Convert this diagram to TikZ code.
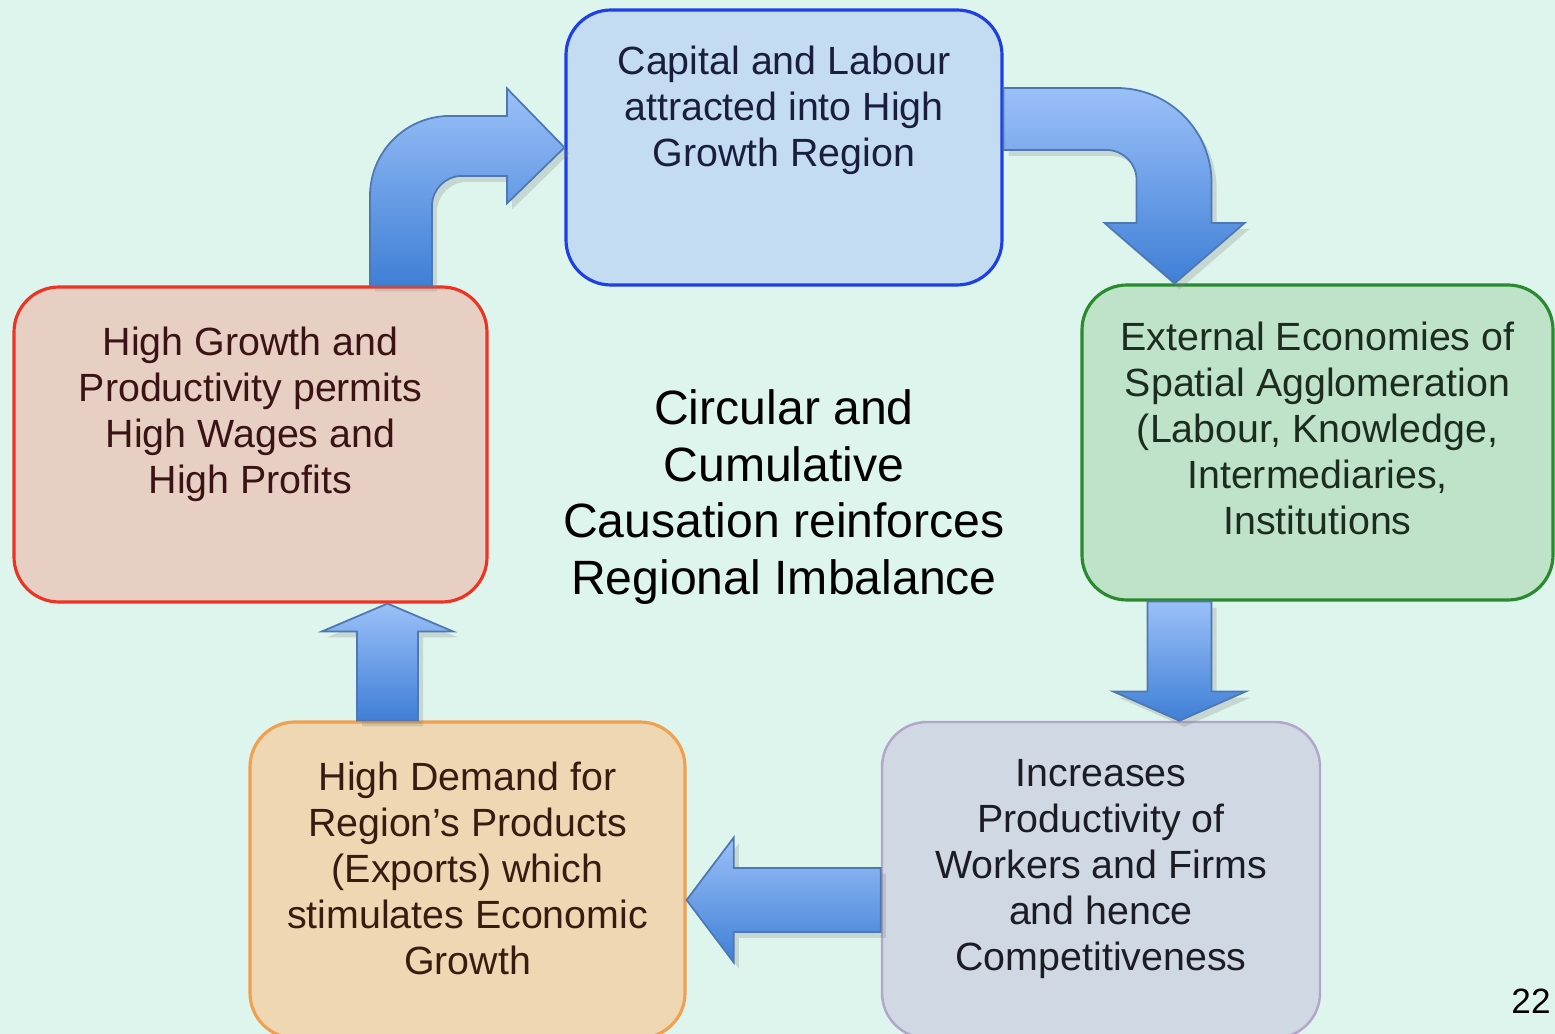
\documentclass[tikz,border=0pt]{standalone}
\usepackage{fontspec}
\setmainfont{Liberation Sans}
\usetikzlibrary{calc,positioning,shadows}

\definecolor{slidebg}{HTML}{DEF5EE}
\definecolor{capitalfill}{HTML}{C3DCF1}
\definecolor{capitalline}{HTML}{1E3FE3}
\definecolor{capitalink}{HTML}{1A1E3C}
\definecolor{growthfill}{HTML}{E8CFC4}
\definecolor{growthline}{HTML}{EE3322}
\definecolor{growthink}{HTML}{3A1414}
\definecolor{externalfill}{HTML}{BEE3C8}
\definecolor{externalline}{HTML}{2A8A2E}
\definecolor{externalink}{HTML}{1C2C1E}
\definecolor{demandfill}{HTML}{EFD7B3}
\definecolor{demandline}{HTML}{F0A050}
\definecolor{demandink}{HTML}{381C12}
\definecolor{prodfill}{HTML}{D0D8E3}
\definecolor{prodline}{HTML}{B2A6CA}
\definecolor{prodink}{HTML}{1C1C24}
\definecolor{arrowtop}{HTML}{9BC0F8}
\definecolor{arrowbottom}{HTML}{3F7FD6}
\definecolor{arrowedge}{HTML}{4E78B2}

\tikzstyle{box}=[rectangle,rounded corners=0.45cm,inner sep=0pt,line width=0.9pt]
\tikzstyle{boxtext}=[align=center,inner sep=0pt,font=\fontsize{11.2}{13.1}\selectfont]
\tikzstyle{blockarrow}=[draw=arrowedge,line width=0.5pt,top color=arrowtop,bottom color=arrowbottom,
  drop shadow={opacity=0.25,shadow xshift=0.5mm,shadow yshift=-0.6mm}]

\begin{document}
\begin{tikzpicture}
  \fill[slidebg] (0,0) rectangle (15.55,-10.34);
  \useasboundingbox (0,0) rectangle (15.55,-10.34);

  % the five stages of the cycle
  \node[box,draw=capitalline,fill=capitalfill,minimum width=4.36cm,minimum height=2.75cm] (capital) at (7.84,-1.475) {};
  \node[box,draw=externalline,fill=externalfill,minimum width=4.71cm,minimum height=3.15cm] (external) at (13.175,-4.425) {};
  \node[box,draw=prodline,fill=prodfill,line width=0.7pt,minimum width=4.38cm,minimum height=3.16cm] (productivity) at (11.01,-8.80) {};
  \node[box,draw=demandline,fill=demandfill,minimum width=4.35cm,minimum height=3.16cm] (demand) at (4.675,-8.80) {};
  \node[box,draw=growthline,fill=growthfill,minimum width=4.73cm,minimum height=3.15cm] (growth) at (2.505,-4.445) {};

  \node[boxtext,text=capitalink,below=0.37cm of capital.north] (capitaltext) {Capital and Labour\\attracted into High\\Growth Region};
  \node[boxtext,text=externalink,below=0.38cm of external.north] (externaltext) {External Economies of\\Spatial Agglomeration\\(Labour, Knowledge,\\Intermediaries,\\Institutions};
  \node[boxtext,text=prodink,below=0.38cm of productivity.north] (productivitytext) {Increases\\Productivity of\\Workers and Firms\\and hence\\Competitiveness};
  \node[boxtext,text=demandink,below=0.41cm of demand.north] (demandtext) {High Demand for\\Region’s Products\\(Exports) which\\stimulates Economic\\Growth};
  \node[boxtext,text=growthink,below=0.41cm of growth.north] (growthtext) {High Growth and\\Productivity permits\\High Wages and\\High Profits};

  \node[font=\fontsize{13.7}{16.1}\selectfont,align=center,inner sep=0pt,anchor=north] (cycle) at (7.84,-3.89)
    {Circular and\\Cumulative\\Causation reinforces\\Regional Imbalance};
  \node[font=\fontsize{10}{12}\selectfont,inner sep=0pt] (pagenum) at (15.31,-10.01) {22};

  % block arrows between the stages
  \coordinate (g2c) at ($(growth.north)+(1.505,0)$);
  \coordinate (c2e) at ($(capital.east)+(1.71,0)$);
  \coordinate (e2p) at ($(external.south)+(-1.38,0)$);
  \coordinate (p2d) at ($(productivity.west)+(0,-0.20)$);
  \coordinate (d2g) at ($(demand.north)+(-0.80,0)$);

  \begin{scope}[shift={(g2c)}]
    \draw[blockarrow] (-0.31,0) -- (-0.31,0.895) arc[start angle=180,end angle=90,radius=0.8]
      -- (1.06,1.695) -- (1.06,1.97) -- (capital.west) -- (1.06,0.82) -- (1.06,1.095)
      -- (0.61,1.095) arc[start angle=90,end angle=180,radius=0.3] -- (0.31,0) -- cycle;
  \end{scope}
  \begin{scope}[shift={(capital.east)}]
    \draw[blockarrow] (0,0.595) -- (1.13,0.595) arc[start angle=90,end angle=0,radius=0.95]
      -- (2.08,-0.755) -- (2.41,-0.755) -- (c2e |- external.north) -- (1.01,-0.755) -- (1.33,-0.755)
      -- (1.33,-0.325) arc[start angle=0,end angle=90,radius=0.3] -- (0,-0.025) -- cycle;
  \end{scope}
  \begin{scope}[shift={(e2p)}]
    \draw[blockarrow] (-0.32,0) -- (-0.32,-0.90) -- (-0.66,-0.90) -- (e2p |- productivity.north)
      -- (0.66,-0.90) -- (0.32,-0.90) -- (0.32,0) -- cycle;
  \end{scope}
  \begin{scope}[shift={(p2d)}]
    \draw[blockarrow] (0,0.32) -- (-1.47,0.32) -- (-1.47,0.625) -- (p2d -| demand.east)
      -- (-1.47,-0.625) -- (-1.47,-0.32) -- (0,-0.32) -- cycle;
  \end{scope}
  \begin{scope}[shift={(d2g)}]
    \draw[blockarrow] (-0.305,0) -- (-0.305,0.89) -- (-0.655,0.89) -- (d2g |- growth.south)
      -- (0.655,0.89) -- (0.305,0.89) -- (0.305,0) -- cycle;
  \end{scope}
\end{tikzpicture}
\end{document}
